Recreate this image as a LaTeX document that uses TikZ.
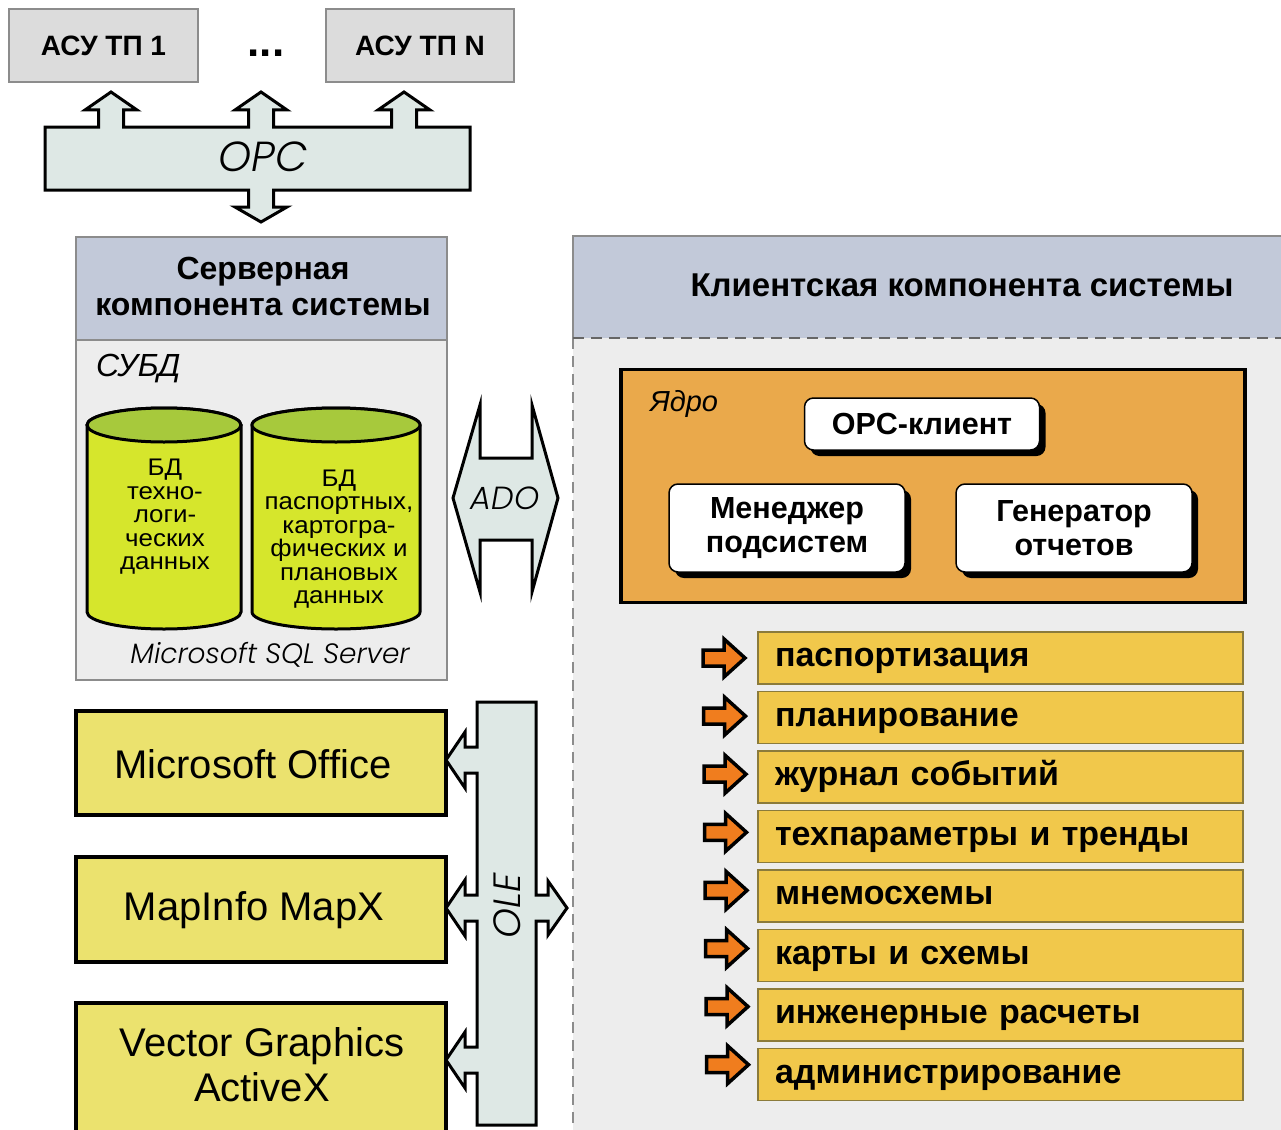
\documentclass[tikz,border=0pt]{standalone}
\usepackage{fontspec}
\setmainfont{Liberation Sans}
\newfontfamily\cylfont{Liberation Sans}[FakeStretch=1.08]
\IfFontExistsTF{Poppins Light Italic}{\newfontfamily\gothic{Poppins Light Italic}}{\newfontfamily\gothic{Poppins}[FakeSlant=0.2]}
\usetikzlibrary{shadows}
\definecolor{boxgray}{HTML}{DCDCDC}
\definecolor{busfill}{HTML}{DEE8E5}
\definecolor{hdrfill}{HTML}{C2C9D9}
\definecolor{bodyfill}{HTML}{EDEDED}
\definecolor{cylbody}{HTML}{D6E62C}
\definecolor{cyltopc}{HTML}{A7C93C}
\definecolor{ybox}{HTML}{EBE26E}
\definecolor{corefill}{HTML}{EAA94B}
\definecolor{itemfill}{HTML}{F1C84B}
\definecolor{itemedge}{HTML}{8B7B3B}
\definecolor{oarr}{HTML}{F07D1E}
\definecolor{edgegray}{HTML}{8C8C8C}
\begin{document}
\begin{tikzpicture}[x=1pt,y=-1pt,
  every node/.style={inner sep=0pt, outer sep=0pt},
  graybox/.style={draw=edgegray, line width=1.5pt, fill=boxgray, font=\fontsize{28}{32}\selectfont\bfseries},
  bus/.style={draw=black, line width=3pt, fill=busfill, line join=miter},
  hdr/.style={draw=edgegray, line width=1.2pt, fill=hdrfill},
  cyl/.style={draw=black, line width=3pt, fill=cylbody},
  cyltop/.style={draw=black, line width=3pt, fill=cyltopc},
  cyltext/.style={align=center, font=\cylfont\fontsize{24}{23.5}\selectfont},
  yellowbox/.style={draw=black, line width=3.5pt, fill=ybox},
  apptext/.style={align=center, font=\fontsize{40}{45}\selectfont},
  whitebox/.style={draw=black, line width=1.5pt, fill=white, rounded corners=9pt, align=center,
     font=\fontsize{30.5}{34}\selectfont\bfseries,
     drop shadow={shadow xshift=6pt, shadow yshift=-6pt, fill=black, opacity=1}},
  itembox/.style={draw=itemedge, line width=1.8pt, fill=itemfill, minimum width=485pt, minimum height=52pt,
     text width=451pt, text height=25pt, text depth=8pt, align=left, font=\fontsize{34}{38}\selectfont\bfseries},
  oarrow/.style={draw=black, line width=3.5pt, fill=oarr, line join=miter},
  dashline/.style={draw=edgegray, line width=1.5pt, dash pattern=on 11pt off 7pt}
]
\useasboundingbox (0,0) rectangle (1281,1129);
\fill[white] (0,0) rectangle (1281,1129);

% top systems
\node[graybox, minimum width=189pt, minimum height=73pt] (asu1) at (103.5,45.5) {АСУ ТП 1};
\node[graybox, minimum width=188pt, minimum height=73pt] (asuN) at (420,45.5) {АСУ ТП N};
\node[anchor=base, font=\fontsize{44}{48}\selectfont\bfseries] (dots) at (266,57) {...};

% OPC bus
\draw[bus] (45,127)
  -- (98.5,127) -- (98.5,110) -- (85,110) -- (111,92) -- (137,110) -- (123.5,110) -- (123.5,127)
  -- (248.5,127) -- (248.5,110) -- (235,110) -- (261,92) -- (287,110) -- (273.5,110) -- (273.5,127)
  -- (391.5,127) -- (391.5,110) -- (378,110) -- (404,92) -- (430,110) -- (416.5,110) -- (416.5,127)
  -- (470,127) -- (470,190)
  -- (273.5,190) -- (273.5,207) -- (287,207) -- (261,222) -- (235,207) -- (248.5,207) -- (248.5,190)
  -- (45,190) -- cycle;
\node[font=\gothic\fontsize{42}{48}\selectfont] (opc) at (263,157) {OPC};

% server component
\node[hdr, minimum width=371pt, minimum height=103pt] (srvh) at (261.5,288.5) {};
\node[align=center, font=\fontsize{32}{36}\selectfont\bfseries] (srvtitle) at (263,286) {Серверная\\компонента системы};
\node[draw=edgegray, line width=1.2pt, fill=bodyfill, minimum width=371pt, minimum height=340pt] (srvb) at (261.5,510) {};
\node[anchor=west, font=\fontsize{32}{36}\selectfont\itshape] (subd) at (96,369) {СУБД};

% cylinders
\draw[cyl] (87,425) -- (87,612) arc[start angle=180,end angle=360,x radius=77pt,y radius=17pt]
  -- (241,425) arc[start angle=0,end angle=180,x radius=77pt,y radius=17pt] -- cycle;
\draw[cyltop] (164,425) ellipse[x radius=77pt, y radius=17pt];
\draw[cyl] (252,425) -- (252,612) arc[start angle=180,end angle=360,x radius=84pt,y radius=17pt]
  -- (420,425) arc[start angle=0,end angle=180,x radius=84pt,y radius=17pt] -- cycle;
\draw[cyltop] (336,425) ellipse[x radius=84pt, y radius=17pt];
\node[cyltext] (db1) at (165,517) {БД\\техно-\\логи-\\ческих\\данных};
\node[cyltext] (db2) at (339,539) {БД\\паспортных,\\картогра-\\фических и\\плановых\\данных};
\node[font=\gothic\fontsize{28}{32}\selectfont] (mssql) at (270,655) {Microsoft SQL Server};

% ADO
\draw[bus] (453,498) -- (480,405) -- (480,458) -- (532,458) -- (532,405) -- (558,498)
  -- (532,592) -- (532,540) -- (480,540) -- (480,592) -- cycle;
\node[font=\gothic\fontsize{32}{36}\selectfont] (ado) at (505,498) {ADO};

% applications
\node[yellowbox, minimum width=370pt, minimum height=104pt] (msoff) at (261,763) {};
\node[apptext] (msofft) at (253,764) {Microsoft Office};
\node[yellowbox, minimum width=370pt, minimum height=105pt] (mapx) at (261,909.5) {};
\node[apptext] (mapxt) at (254,910) {MapInfo MapX};
\node[yellowbox, minimum width=370pt, minimum height=140pt] (vgbox) at (261,1073) {};
\node[apptext] (vg) at (262,1065) {Vector Graphics\\ActiveX};

% OLE bus
\draw[bus] (477,702) -- (536,702) -- (536,895) -- (548,895) -- (548,881) -- (567,908)
  -- (548,935) -- (548,921) -- (536,921) -- (536,1125) -- (477,1125)
  -- (477,1073) -- (465,1073) -- (465,1088) -- (446,1060) -- (465,1032) -- (465,1047) -- (477,1047)
  -- (477,921) -- (465,921) -- (465,936) -- (446,908) -- (465,880) -- (465,895) -- (477,895)
  -- (477,773) -- (465,773) -- (465,788) -- (446,760) -- (465,732) -- (465,747) -- (477,747)
  -- cycle;
\node[rotate=90, font=\gothic\fontsize{38}{42}\selectfont] (ole) at (507,906) {OLE};

% client component
\fill[bodyfill] (573,338) rectangle (1295,1145);
\draw[dashline] (573,338) -- (573,1145);
\node[fill=hdrfill, minimum width=722pt, minimum height=102pt] (clh) at (934,287) {};
\draw[edgegray, line width=1.5pt] (573,338) -- (573,236) -- (1295,236);
\draw[dashline, draw=gray!80!black] (573,338) -- (1295,338);
\node[font=\fontsize{33}{38}\selectfont\bfseries] (cltitle) at (962,285) {Клиентская компонента системы};

% core
\node[draw=black, line width=3.5pt, fill=corefill, minimum width=624pt, minimum height=233pt] (core) at (933,486) {};
\node[anchor=west, font=\fontsize{29}{32}\selectfont\itshape] (yadro) at (650,404) {Ядро};
\node[whitebox, minimum width=235pt, minimum height=52pt] (opcc) at (922,424) {OPC-клиент};
\node[whitebox, minimum width=236pt, minimum height=88pt] (mgr) at (787,528) {Менеджер\\подсистем};
\node[whitebox, minimum width=236pt, minimum height=88pt] (gen) at (1074,528) {Генератор\\отчетов};

% subsystem list
\foreach \t [count=\i from 0] in {паспортизация, планирование, журнал событий, техпараметры и тренды,
    мнемосхемы, карты и схемы, инженерные расчеты, администрирование}{
  \pgfmathsetmacro\cy{658+59.5*\i}
  \node[itembox] (item\i) at (1000.5,\cy) {\t};
  \pgfmathsetmacro\ay{658+58.1*\i}
  \pgfmathsetmacro\ax{703+0.5*\i}
  \draw[oarrow] (\ax,\ay-8) -- (\ax+21,\ay-8) -- (\ax+21,\ay-19) -- (\ax+42,\ay)
     -- (\ax+21,\ay+19) -- (\ax+21,\ay+8) -- (\ax,\ay+8) -- cycle;
}
\end{tikzpicture}
\end{document}
